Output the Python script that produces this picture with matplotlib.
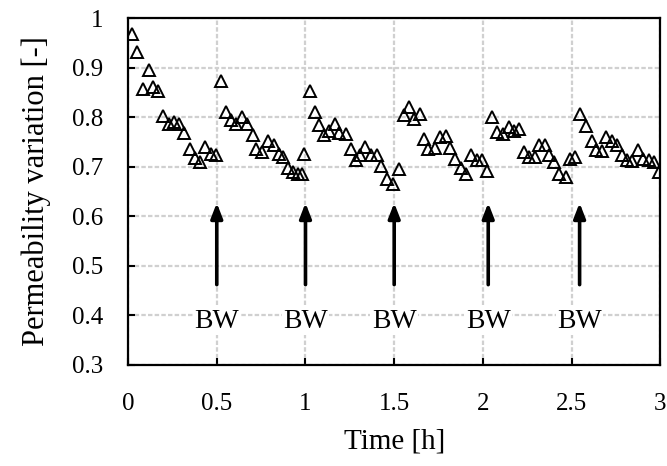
import matplotlib.pyplot as plt
from matplotlib.ticker import FuncFormatter

plt.rcParams['font.family'] = ['Liberation Serif', 'DejaVu Serif']

# Time [h] and permeability variation [-]
time_h = [0.022, 0.051, 0.117, 0.083, 0.139, 0.171, 0.197, 0.228, 0.257, 0.285,
          0.313, 0.351, 0.380, 0.408, 0.436, 0.470, 0.498,
          0.524, 0.552, 0.580, 0.609, 0.643, 0.671, 0.703, 0.722, 0.756, 0.790,
          0.822, 0.850, 0.872, 0.903, 0.931, 0.956, 0.979, 0.992,
          1.023, 1.053, 1.075, 1.107, 1.135, 1.169, 1.191, 1.229, 1.258, 1.285,
          1.309, 1.338, 1.372, 1.404, 1.427, 1.459, 1.493, 1.525,
          1.553, 1.581, 1.610, 1.643, 1.670, 1.693, 1.731, 1.759, 1.792, 1.816,
          1.844, 1.876, 1.905, 1.932, 1.966, 1.994, 2.025,
          2.053, 2.081, 2.113, 2.147, 2.175, 2.203, 2.231, 2.260, 2.293, 2.316,
          2.350, 2.372, 2.401, 2.431, 2.469, 2.490, 2.520,
          2.549, 2.583, 2.615, 2.638, 2.671, 2.695, 2.727, 2.755, 2.784, 2.812,
          2.840, 2.872, 2.902, 2.934, 2.962, 2.990]
perm = [0.968, 0.931, 0.895, 0.858, 0.861, 0.853, 0.802, 0.787, 0.790, 0.787,
        0.768, 0.736, 0.718, 0.709, 0.740, 0.726, 0.724,
        0.873, 0.810, 0.794, 0.787, 0.800, 0.787, 0.765, 0.736, 0.730, 0.753,
        0.743, 0.726, 0.719, 0.698, 0.689, 0.686, 0.686, 0.725,
        0.853, 0.811, 0.784, 0.765, 0.773, 0.787, 0.768, 0.767, 0.736, 0.713,
        0.723, 0.740, 0.723, 0.723, 0.702, 0.676, 0.665, 0.696,
        0.804, 0.820, 0.797, 0.807, 0.757, 0.736, 0.738, 0.761, 0.763, 0.738,
        0.716, 0.698, 0.686, 0.723, 0.713, 0.713, 0.692,
        0.800, 0.770, 0.767, 0.780, 0.773, 0.777, 0.729, 0.719, 0.719, 0.743,
        0.743, 0.723, 0.709, 0.686, 0.679, 0.716, 0.719,
        0.807, 0.782, 0.753, 0.733, 0.731, 0.761, 0.753, 0.743, 0.723, 0.713,
        0.711, 0.734, 0.716, 0.713, 0.709, 0.689]

# backwash times
bw_times = [0.5, 1.0, 1.5, 2.03, 2.545]
bw_label = 'BW'

fig = plt.figure(figsize=(6.67, 4.66), dpi=100)
ax = fig.add_axes([0.192, 0.217, 0.798, 0.744])

ax.plot(time_h, perm, linestyle='none', marker='^', markersize=8.5,
        markerfacecolor='none', markeredgecolor='black', markeredgewidth=1.4,
        zorder=3)

for t in bw_times:
    ax.annotate('', xy=(t, 0.627), xytext=(t, 0.462),
                arrowprops=dict(arrowstyle='-|>,head_width=0.35,head_length=0.9',
                                color='black', lw=2.6, shrinkA=0, shrinkB=0),
                zorder=4)
    ax.text(t, 0.388, bw_label, ha='center', va='center', fontsize=20,
            bbox=dict(facecolor='white', edgecolor='none', pad=1), zorder=4)

ax.set_xlim(0, 3)
ax.set_ylim(0.3, 1)
ax.set_xticks([0, 0.5, 1, 1.5, 2, 2.5, 3])
ax.set_yticks([0.3, 0.4, 0.5, 0.6, 0.7, 0.8, 0.9, 1.0])
fmt = FuncFormatter(lambda v, p: '%g' % v)
ax.xaxis.set_major_formatter(fmt)
ax.yaxis.set_major_formatter(fmt)
ax.tick_params(direction='in', length=5, width=1.5, labelsize=18)
ax.tick_params(axis='x', pad=20)
ax.tick_params(axis='y', pad=18)

ax.grid(True, color='#d0d0d0', linestyle=(0, (2, 1)), linewidth=1.6, zorder=0)
ax.set_axisbelow(True)
for s in ax.spines.values():
    s.set_linewidth(1.6)

ax.set_xlabel('Time [h]', fontsize=21, labelpad=10)
ax.set_ylabel('Permeability variation [-]', fontsize=22, labelpad=15)

fig.savefig('out.png', dpi=100)
